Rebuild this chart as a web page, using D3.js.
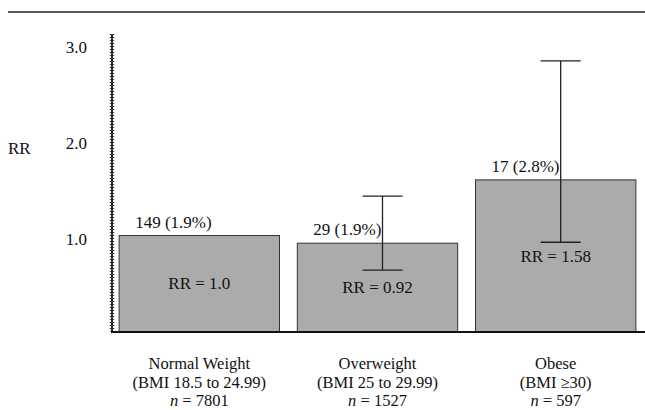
<!DOCTYPE html>
<html>
<head>
<meta charset="utf-8">
<script src="https://cdn.jsdelivr.net/npm/d3@7/dist/d3.min.js"></script>
<style>
  html, body { margin: 0; padding: 0; background: #fff; }
  svg { display: block; }
</style>
</head>
<body>
<svg id="chart" width="645" height="410"></svg>
<script>
// BMI groups and their relative risk
const categories  = ["Normal Weight", "Overweight", "Obese"];
const bmiRanges   = ["(BMI 18.5 to 24.99)", "(BMI 25 to 29.99)", "(BMI \u226530)"];
const sampleSizes = [7801, 1527, 597];
const events      = [149, 29, 17];
const eventPct    = ["1.9%", "1.9%", "2.8%"];
const relRisk     = [1.0, 0.92, 1.58];
const ciLow       = [null, 0.64, 0.93];
const ciHigh      = [null, 1.41, 2.82];
const yTicks      = [1, 2, 3];

const FONT = "'Liberation Serif', 'Times New Roman', Times, serif";
const svg = d3.select("#chart");
const W = 645;
const plotLeft = 112, plotRight = 643, plotTop = 34, baseline = 331.5;

const rows = categories.map((c, i) => ({
  name: c, range: bmiRanges[i], n: sampleSizes[i], events: events[i],
  pct: eventPct[i], rr: relRisk[i], lo: ciLow[i], hi: ciHigh[i]
}));

const x = d3.scaleBand().domain(categories).range([plotLeft, plotRight])
  .paddingInner(0.1).paddingOuter(0.04);
const y = d3.scaleLinear().domain([0, 3.1]).range([baseline, plotTop]);

const fmtRR = v => Number.isInteger(v) ? v.toFixed(1) : String(v);

// rule across the top of the figure
svg.append("line").attr("x1", 8).attr("x2", W).attr("y1", 12).attr("y2", 12)
  .attr("stroke", "#222").attr("stroke-width", 1.5);

// bars
svg.append("g").selectAll("rect").data(rows).join("rect")
  .attr("x", d => x(d.name))
  .attr("y", d => y(d.rr))
  .attr("width", x.bandwidth())
  .attr("height", d => y(0) - y(d.rr))
  .attr("fill", "#ababab")
  .attr("stroke", "#333").attr("stroke-width", 1);

// confidence intervals
const ebX = d => x(d.name) + x.bandwidth() / 2 + 5;
const cap = 20;
const eb = svg.append("g").attr("stroke", "#222").attr("stroke-width", 1.3)
  .selectAll("g").data(rows.filter(d => d.lo != null)).join("g");
eb.append("line").attr("x1", ebX).attr("x2", ebX)
  .attr("y1", d => y(d.hi)).attr("y2", d => y(d.lo));
eb.append("line").attr("x1", d => ebX(d) - cap).attr("x2", d => ebX(d) + cap)
  .attr("y1", d => y(d.hi)).attr("y2", d => y(d.hi));
eb.append("line").attr("x1", d => ebX(d) - cap).attr("x2", d => ebX(d) + cap)
  .attr("y1", d => y(d.lo)).attr("y2", d => y(d.lo));

// event counts above bars
svg.append("g").selectAll("text").data(rows).join("text")
  .attr("x", d => x(d.name) + 16)
  .attr("y", d => y(d.rr) - 8)
  .style("font-family", FONT).style("font-size", "17px").attr("fill", "#111")
  .text(d => `${d.events} (${d.pct})`);

// RR inside bars
svg.append("g").selectAll("text").data(rows).join("text")
  .attr("x", d => x(d.name) + x.bandwidth() / 2)
  .attr("y", d => (y(d.rr) + y(0)) / 2)
  .attr("dy", "0.35em")
  .attr("text-anchor", "middle")
  .style("font-family", FONT).style("font-size", "17px").attr("fill", "#111")
  .text(d => `RR = ${fmtRR(d.rr)}`);

// y axis
const yAxis = d3.axisLeft(y).tickValues(yTicks).tickFormat(d3.format(".1f"))
  .tickSize(0).tickPadding(25);
const ga = svg.append("g").attr("transform", `translate(${plotLeft},0)`).call(yAxis);
ga.select(".domain").remove();
ga.selectAll("text").attr("dy", "0.5em").attr("fill", "#111")
  .style("font-family", FONT).style("font-size", "17px");
svg.append("line").attr("x1", plotLeft).attr("x2", plotLeft)
  .attr("y1", plotTop).attr("y2", baseline + 1)
  .attr("stroke", "#111").attr("stroke-width", 1.8);
svg.append("line").attr("x1", plotLeft).attr("x2", plotLeft)
  .attr("y1", plotTop).attr("y2", baseline)
  .attr("stroke", "#333").attr("stroke-width", 4.5)
  .attr("stroke-dasharray", "1 2");

svg.append("text").attr("x", 8).attr("y", 154).attr("fill", "#111")
  .style("font-family", FONT).style("font-size", "17px").text("RR");

// x baseline
svg.append("line").attr("x1", plotLeft - 1).attr("x2", W)
  .attr("y1", baseline + 0.5).attr("y2", baseline + 0.5)
  .attr("stroke", "#111").attr("stroke-width", 2);

// category labels
const xl = svg.append("g").selectAll("text").data(rows).join("text")
  .attr("text-anchor", "middle").attr("fill", "#111")
  .style("font-family", FONT).style("font-size", "16.5px")
  .attr("transform", d => `translate(${x(d.name) + x.bandwidth() / 2},0)`);
xl.append("tspan").attr("x", 0).attr("y", 369).text(d => d.name);
xl.append("tspan").attr("x", 0).attr("y", 388).text(d => d.range);
const nl = xl.append("tspan").attr("x", 0).attr("y", 406);
nl.append("tspan").style("font-style", "italic").text("n");
nl.append("tspan").text(d => ` = ${d.n}`);
</script>
</body>
</html>
